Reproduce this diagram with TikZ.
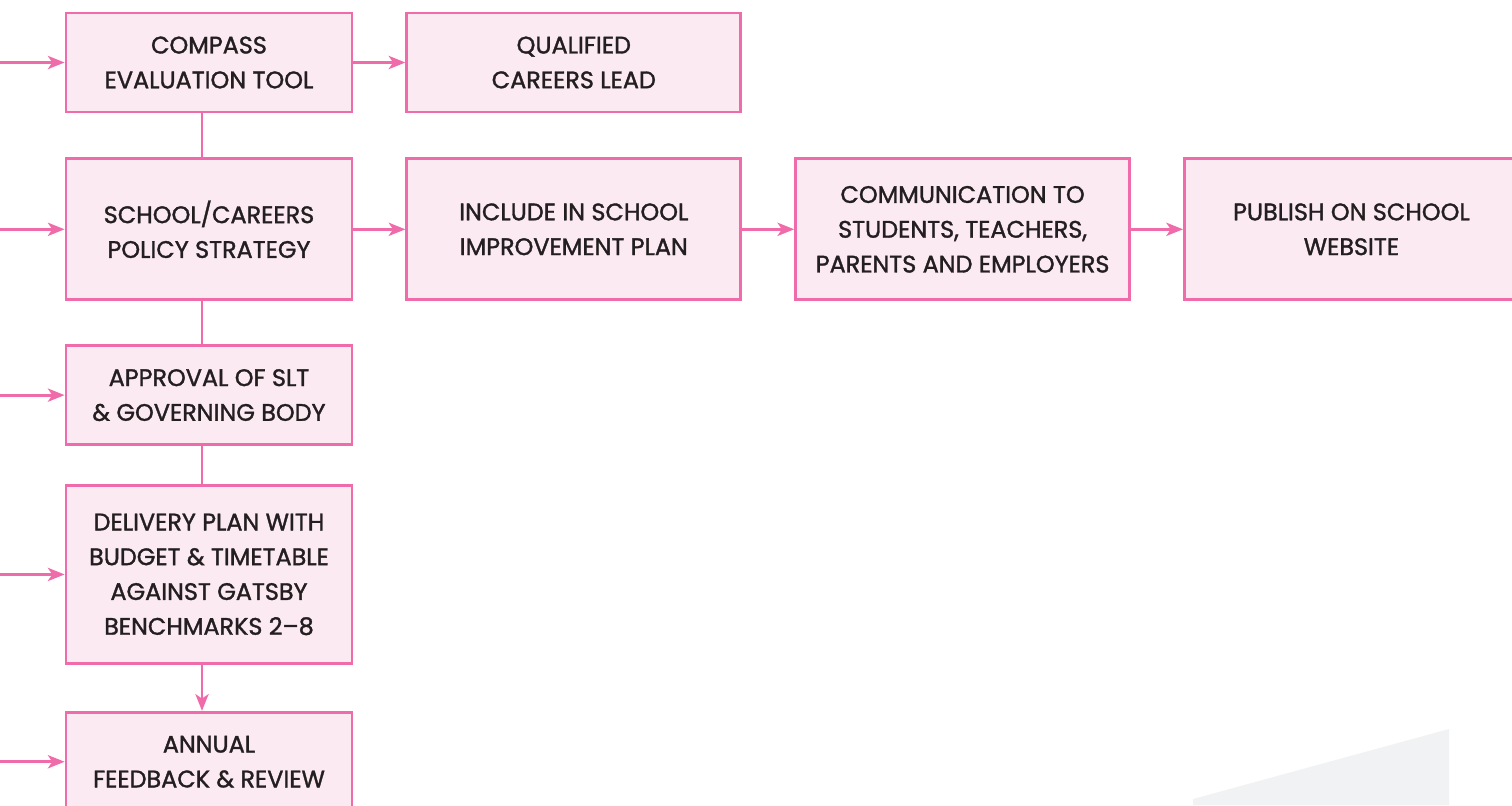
\documentclass[tikz,border=0pt]{standalone}
\usepackage{fontspec}
\setmainfont{Poppins}[BoldFont=Poppins,BoldFeatures={FakeBold=1.4}]
\usetikzlibrary{positioning,arrows.meta}

\definecolor{pinkline}{HTML}{EF6BA9}
\definecolor{pinkfill}{HTML}{FCEAF3}
\definecolor{ink}{HTML}{231F20}
\definecolor{paleshape}{HTML}{F1F2F4}

\begin{document}
\begin{tikzpicture}[
  >={Stealth[length=9.5pt,width=7.5pt,inset=2.5pt]},
  node distance=10.4mm,
  stage/.style={draw=pinkline,fill=pinkfill,line width=1.6pt,text=ink,
    font=\fontsize{13.6}{19.8}\selectfont\bfseries,align=center,
    minimum width=66.8mm,minimum height=19.8mm,inner sep=0pt},
  first/.style={stage,minimum width=57.2mm},
  flow/.style={->,pinkline,line width=1.6pt},
  link/.style={pinkline,line width=1.6pt}
]
  \useasboundingbox (0,0) rectangle (30.24,-16.1);
  \fill[paleshape] (23.86,-15.98) -- (28.98,-14.58) -- (28.98,-16.1) -- (23.86,-16.1) -- cycle;

  \node[first] (compass) at (4.18,-1.25) {COMPASS\\EVALUATION TOOL};
  \node[stage,right=of compass] (careerslead) {QUALIFIED\\CAREERS LEAD};
  \node[first,minimum height=28.2mm,below=8.8mm of compass] (policy) {SCHOOL/CAREERS\\POLICY STRATEGY};
  \node[stage,minimum height=28.2mm,right=of policy] (improvement) {INCLUDE IN SCHOOL\\IMPROVEMENT PLAN};
  \node[stage,minimum height=28.2mm,right=of improvement] (communication) {COMMUNICATION TO\\STUDENTS, TEACHERS,\\PARENTS AND EMPLOYERS};
  \node[stage,minimum height=28.2mm,right=of communication] (website) {PUBLISH ON SCHOOL\\WEBSITE};
  \node[first,below=8.6mm of policy] (approval) {APPROVAL OF SLT\\\& GOVERNING BODY};
  \node[first,minimum height=35.6mm,below=7.6mm of approval] (delivery) {DELIVERY PLAN WITH\\BUDGET \& TIMETABLE\\AGAINST GATSBY\\BENCHMARKS 2--8};
  \node[first,below=9.2mm of delivery] (review) {ANNUAL\\FEEDBACK \& REVIEW};

  \coordinate (edge) at (0,0);

  % incoming arrows on the left
  \foreach \b in {compass,policy,approval,delivery,review}
    \draw[flow] (edge |- \b.west) -- (\b.west);

  % spine down the first column
  \draw[link] ([xshift=-1.4mm]compass.south) -- ([xshift=-1.4mm]policy.north);
  \draw[link] ([xshift=-1.4mm]policy.south) -- ([xshift=-1.4mm]approval.north);
  \draw[link] ([xshift=-1.4mm]approval.south) -- ([xshift=-1.4mm]delivery.north);
  \draw[flow] ([xshift=-1.4mm]delivery.south) -- ([xshift=-1.4mm]review.north);

  % across the rows
  \draw[flow] (compass) -- (careerslead);
  \draw[flow] (policy) -- (improvement);
  \draw[flow] (improvement) -- (communication);
  \draw[flow] (communication) -- (website);
\end{tikzpicture}
\end{document}
